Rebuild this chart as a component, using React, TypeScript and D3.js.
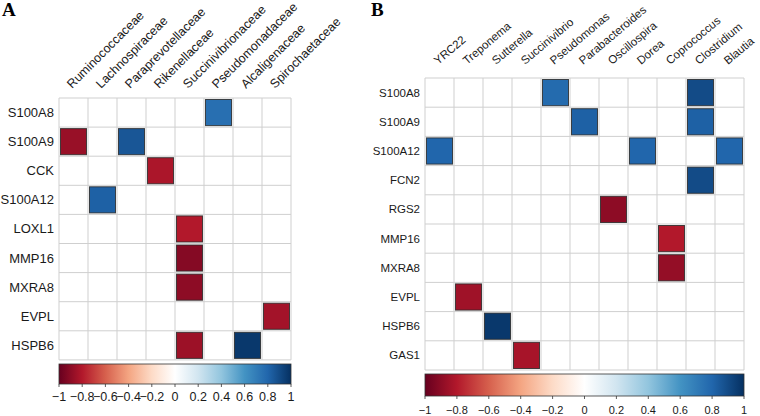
import React from "react";
import * as d3 from "d3";

const rowsA = ["S100A8", "S100A9", "CCK", "S100A12", "LOXL1", "MMP16", "MXRA8", "EVPL", "HSPB6"];
const colsA = ["Ruminococcaceae", "Lachnospiraceae", "Paraprevotellaceae", "Rikenellaceae", "Succinivibrionaceae", "Pseudomonadaceae", "Alcaligenaceae", "Spirochaetaceae"];
const corrA: [string, string, number][] = [
  ["S100A8", "Pseudomonadaceae", 0.76],
  ["S100A9", "Ruminococcaceae", -0.87],
  ["S100A9", "Paraprevotellaceae", 0.86],
  ["CCK", "Rikenellaceae", -0.82],
  ["S100A12", "Lachnospiraceae", 0.82],
  ["LOXL1", "Succinivibrionaceae", -0.8],
  ["MMP16", "Succinivibrionaceae", -0.92],
  ["MXRA8", "Succinivibrionaceae", -0.9],
  ["EVPL", "Spirochaetaceae", -0.84],
  ["HSPB6", "Succinivibrionaceae", -0.86],
  ["HSPB6", "Alcaligenaceae", 0.97],
];

const rowsB = ["S100A8", "S100A9", "S100A12", "FCN2", "RGS2", "MMP16", "MXRA8", "EVPL", "HSPB6", "GAS1"];
const colsB = ["YRC22", "Treponema", "Sutterella", "Succinivibrio", "Pseudomonas", "Parabacteroides", "Oscillospira", "Dorea", "Coprococcus", "Clostridium", "Blautia"];
const corrB: [string, string, number][] = [
  ["S100A8", "Pseudomonas", 0.78],
  ["S100A8", "Clostridium", 0.9],
  ["S100A9", "Parabacteroides", 0.82],
  ["S100A9", "Clostridium", 0.82],
  ["S100A12", "YRC22", 0.8],
  ["S100A12", "Dorea", 0.8],
  ["S100A12", "Blautia", 0.8],
  ["FCN2", "Clostridium", 0.9],
  ["RGS2", "Oscillospira", -0.9],
  ["MMP16", "Coprococcus", -0.8],
  ["MXRA8", "Coprococcus", -0.88],
  ["EVPL", "Treponema", -0.85],
  ["HSPB6", "Sutterella", 0.97],
  ["GAS1", "Succinivibrio", -0.83],
];

const ticks = [-1, -0.8, -0.6, -0.4, -0.2, 0, 0.2, 0.4, 0.6, 0.8, 1];
const palette = ["#67001F", "#B2182B", "#D6604D", "#F4A582", "#FDDBC7", "#FFFFFF", "#D1E5F0", "#92C5DE", "#4393C3", "#2166AC", "#053061"];

const color = d3.scaleLinear<string>().domain(ticks).range(palette).interpolate(d3.interpolateRgb);
const FONT = "'Liberation Sans', Arial, sans-serif";

type PanelProps = {
  id: string;
  rows: string[];
  cols: string[];
  corr: [string, string, number][];
  x0: number;
  y0: number;
  cw: number;
  ch: number;
  rowFont: number;
  colFont: number;
  colAngle: number;
  labelGap: number;
  barTop: number;
  barH: number;
  tickFont: number;
  tickDy: number;
};

function Panel(p: PanelProps) {
  const x = d3.scaleBand<string>().domain(p.cols).range([p.x0, p.x0 + p.cw * p.cols.length]);
  const y = d3.scaleBand<string>().domain(p.rows).range([p.y0, p.y0 + p.ch * p.rows.length]);
  const [xa, xb] = x.range();
  const [ya, yb] = y.range();
  const bx = d3.scaleLinear().domain([-1, 1]).range([xa, xb]);
  const gid = "grad" + p.id;
  const fmt = (t: number) => (t < 0 ? "\u2212" : "") + String(Math.abs(Math.round(t * 10) / 10));
  return (
    <g>
      <defs>
        <linearGradient id={gid} x1="0" x2="1" y1="0" y2="0">
          {palette.map((c, i) => (
            <stop key={i} offset={`${(i / (palette.length - 1)) * 100}%`} stopColor={c} />
          ))}
        </linearGradient>
      </defs>
      {p.cols.map((c) => (
        <line key={"v" + c} x1={x(c)} x2={x(c)} y1={ya} y2={yb} stroke="#cfcfcf" strokeWidth={1} />
      ))}
      <line x1={xb} x2={xb} y1={ya} y2={yb} stroke="#cfcfcf" strokeWidth={1} />
      {p.rows.map((r) => (
        <line key={"h" + r} x1={xa} x2={xb} y1={y(r)} y2={y(r)} stroke="#cfcfcf" strokeWidth={1} />
      ))}
      <line x1={xa} x2={xb} y1={yb} y2={yb} stroke="#cfcfcf" strokeWidth={1} />
      {p.corr.map(([r, c, v], i) => (
        <rect
          key={i}
          x={(x(c) as number) + 1.5}
          y={(y(r) as number) + 1.5}
          width={x.bandwidth() - 3}
          height={y.bandwidth() - 3}
          fill={color(v)}
          stroke="#2a2a2a"
          strokeOpacity={0.85}
          strokeWidth={1}
        />
      ))}
      {p.rows.map((r) => (
        <text
          key={"rl" + r}
          x={xa - 5}
          y={(y(r) as number) + y.bandwidth() / 2}
          textAnchor="end"
          dominantBaseline="central"
          fontFamily={FONT}
          fontSize={p.rowFont}
          fill="#1a1a1a"
        >
          {r}
        </text>
      ))}
      {p.cols.map((c) => (
        <text
          key={"cl" + c}
          transform={`translate(${(x(c) as number) + x.bandwidth() / 2 - 1.5},${ya - p.labelGap}) rotate(${-p.colAngle})`}
          textAnchor="start"
          fontFamily={FONT}
          fontSize={p.colFont}
          fill="#1a1a1a"
        >
          {c}
        </text>
      ))}
      <rect x={xa} y={p.barTop} width={xb - xa} height={p.barH} fill={`url(#${gid})`} stroke="#333" strokeWidth={0.8} />
      {ticks.map((t) => (
        <g key={"t" + t}>
          <line x1={bx(t)} x2={bx(t)} y1={p.barTop + p.barH} y2={p.barTop + p.barH + 3} stroke="#333" strokeWidth={0.8} />
          <text
            x={bx(t)}
            y={p.barTop + p.barH + p.tickDy}
            textAnchor="middle"
            dominantBaseline="central"
            fontFamily={FONT}
            fontSize={p.tickFont}
            fill="#1a1a1a"
          >
            {fmt(t)}
          </text>
        </g>
      ))}
    </g>
  );
}

export default function App() {
  return (
    <svg width={760} height={416} style={{ position: "absolute", left: 0, top: 0, background: "#fff" }}>
      <rect width={760} height={416} fill="#fff" />
      <text x={2} y={16} fontFamily="'Liberation Serif', 'Times New Roman', serif" fontWeight="bold" fontSize={19}>
        A
      </text>
      <text x={371} y={16} fontFamily="'Liberation Serif', 'Times New Roman', serif" fontWeight="bold" fontSize={19}>
        B
      </text>
      <Panel
        id="A"
        rows={rowsA}
        cols={colsA}
        corr={corrA}
        x0={59}
        y0={98}
        cw={29}
        ch={29.1}
        rowFont={13}
        colFont={12.5}
        colAngle={45}
        labelGap={9}
        barTop={364}
        barH={20}
        tickFont={12.5}
        tickDy={13}
      />
      <Panel
        id="B"
        rows={rowsB}
        cols={colsB}
        corr={corrB}
        x0={425}
        y0={78}
        cw={29}
        ch={29.2}
        rowFont={11.5}
        colFont={11.5}
        colAngle={40}
        labelGap={13}
        barTop={374}
        barH={22}
        tickFont={11}
        tickDy={14}
      />
    </svg>
  );
}
